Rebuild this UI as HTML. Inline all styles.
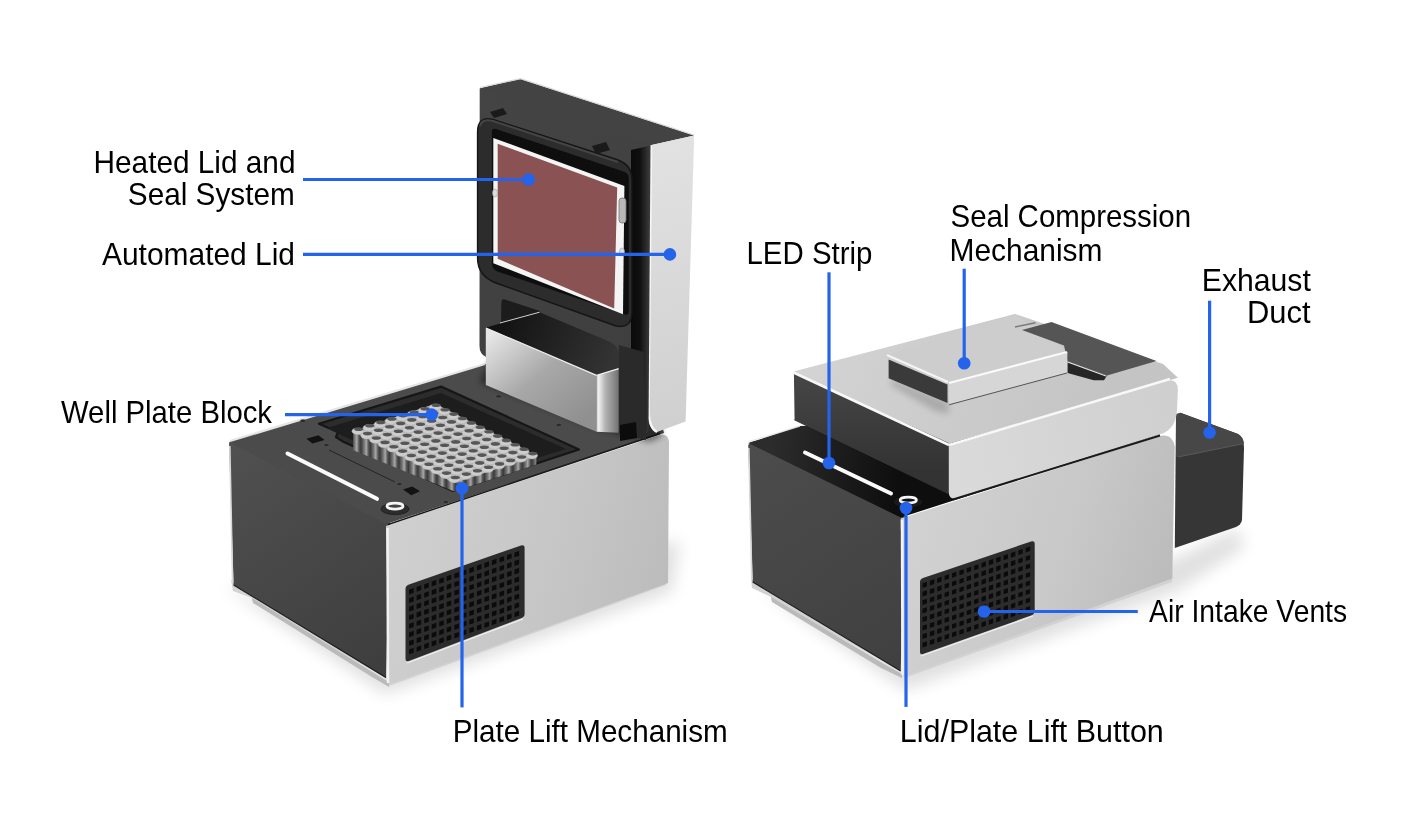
<!DOCTYPE html>
<html><head><meta charset="utf-8">
<style>
html,body{margin:0;padding:0;background:#fff;width:1420px;height:824px;overflow:hidden}
svg{display:block;will-change:transform}
text{font-family:"Liberation Sans",sans-serif;font-size:30.5px;fill:#000}
</style></head>
<body>
<svg width="1420" height="824" viewBox="0 0 1420 824">
<defs>
  <filter id="b12" x="-50%" y="-50%" width="200%" height="200%"><feGaussianBlur stdDeviation="12"/></filter>
  <filter id="b8" x="-50%" y="-50%" width="200%" height="200%"><feGaussianBlur stdDeviation="8"/></filter>
  <filter id="b3" x="-50%" y="-50%" width="200%" height="200%"><feGaussianBlur stdDeviation="3"/></filter>
  <filter id="b5" x="-50%" y="-50%" width="200%" height="200%"><feGaussianBlur stdDeviation="5"/></filter>
  <filter id="b2" x="-50%" y="-50%" width="200%" height="200%"><feGaussianBlur stdDeviation="1.5"/></filter>
  <linearGradient id="silverL" gradientUnits="userSpaceOnUse" x1="390" y1="520" x2="660" y2="600">
    <stop offset="0" stop-color="#d0d0d0"/><stop offset="0.6" stop-color="#c6c6c6"/><stop offset="1" stop-color="#bcbcbc"/>
  </linearGradient>
  <linearGradient id="silverR" gradientUnits="userSpaceOnUse" x1="905" y1="510" x2="1170" y2="590">
    <stop offset="0" stop-color="#d2d2d2"/><stop offset="0.6" stop-color="#c8c8c8"/><stop offset="1" stop-color="#bbbbbb"/>
  </linearGradient>
  <linearGradient id="darkFL" gradientUnits="userSpaceOnUse" x1="230" y1="450" x2="380" y2="670">
    <stop offset="0" stop-color="#505050"/><stop offset="1" stop-color="#3e3e3e"/>
  </linearGradient>
  <linearGradient id="darkFR" gradientUnits="userSpaceOnUse" x1="750" y1="450" x2="900" y2="670">
    <stop offset="0" stop-color="#4c4c4c"/><stop offset="1" stop-color="#404040"/>
  </linearGradient>
  <linearGradient id="lidSide" gradientUnits="userSpaceOnUse" x1="650" y1="140" x2="690" y2="420">
    <stop offset="0" stop-color="#e2e2e2"/><stop offset="1" stop-color="#d0d0d0"/>
  </linearGradient>
  <linearGradient id="hinge" gradientUnits="userSpaceOnUse" x1="490" y1="335" x2="570" y2="430">
    <stop offset="0" stop-color="#e6e6e6"/><stop offset="0.5" stop-color="#a8a8a8"/><stop offset="1" stop-color="#909090"/>
  </linearGradient>
  <linearGradient id="hingeSide" gradientUnits="userSpaceOnUse" x1="596" y1="0" x2="619" y2="0">
    <stop offset="0" stop-color="#c8c8c8"/><stop offset="0.12" stop-color="#f0f0f0"/><stop offset="0.4" stop-color="#b4b4b4"/><stop offset="1" stop-color="#707070"/>
  </linearGradient>
  <linearGradient id="lidTop" gradientUnits="userSpaceOnUse" x1="500" y1="80" x2="510" y2="110">
    <stop offset="0" stop-color="#4a4a4a"/><stop offset="1" stop-color="#3c3c3c"/>
  </linearGradient>
  <linearGradient id="rbaseTop" gradientUnits="userSpaceOnUse" x1="770" y1="450" x2="900" y2="470">
    <stop offset="0" stop-color="#2c2c2c"/><stop offset="1" stop-color="#0e0e0e"/>
  </linearGradient>
  <linearGradient id="rlidL" gradientUnits="userSpaceOnUse" x1="850" y1="380" x2="850" y2="470">
    <stop offset="0" stop-color="#454545"/><stop offset="1" stop-color="#333"/>
  </linearGradient>
  <linearGradient id="faceEdge" gradientUnits="userSpaceOnUse" x1="631" y1="0" x2="649" y2="0">
    <stop offset="0" stop-color="#0a0a0a"/><stop offset="0.5" stop-color="#101010"/><stop offset="1" stop-color="#383838"/>
  </linearGradient>
  <linearGradient id="boxIn" gradientUnits="userSpaceOnUse" x1="500" y1="320" x2="610" y2="365">
    <stop offset="0" stop-color="#121212"/><stop offset="1" stop-color="#333"/>
  </linearGradient>
  <linearGradient id="lidFace" gradientUnits="userSpaceOnUse" x1="480" y1="90" x2="640" y2="430">
    <stop offset="0" stop-color="#444"/><stop offset="1" stop-color="#3e3e3e"/>
  </linearGradient>
  <linearGradient id="cyl" gradientUnits="userSpaceOnUse" x1="0" y1="0" x2="9.5" y2="0" spreadMethod="repeat">
    <stop offset="0" stop-color="#3c3c3c"/><stop offset="0.35" stop-color="#7a7a7a"/><stop offset="0.55" stop-color="#a8a8a8"/><stop offset="0.8" stop-color="#555"/><stop offset="1" stop-color="#3a3a3a"/>
  </linearGradient>
  <linearGradient id="rlidTop" gradientUnits="userSpaceOnUse" x1="800" y1="330" x2="1100" y2="430">
    <stop offset="0" stop-color="#d4d4d4"/><stop offset="1" stop-color="#c4c4c4"/>
  </linearGradient>
  <linearGradient id="rlidSide" gradientUnits="userSpaceOnUse" x1="950" y1="450" x2="1175" y2="400">
    <stop offset="0" stop-color="#dadada"/><stop offset="1" stop-color="#cfcfcf"/>
  </linearGradient>
</defs>

<g id="left">
<polygon points="222.0,585.0 385.0,694.0 672.0,592.0 680.0,540.0 600.0,560.0 390.0,640.0" fill="#000" opacity="0.12" filter="url(#b8)"/>
<polygon points="231.0,580.0 386.0,674.0 389.0,686.0 666.0,585.0 666.0,578.0 389.0,680.0 253.0,603.0 252.0,598.0 233.0,591.0" fill="#d2d2d2"/>
<polygon points="252.0,598.0 253.0,603.0 372.0,677.0 389.0,687.0 389.0,682.0 374.0,673.0" fill="#bababa"/>
<polygon points="229.0,443.0 232.0,440.0 300.0,420.0 390.0,520.0 386.0,678.0 233.6,585.0" fill="url(#darkFL)"/>
<line x1="233.6" y1="585" x2="386" y2="677.5" stroke="#1e1e1e" stroke-width="1.2"/>
<line x1="229.8" y1="446" x2="232.6" y2="583" stroke="#d8d8d8" stroke-width="1.6"/>
<path d="M386,526 L660,435 Q668,433 669,442 L668,583 L389,684 Z" fill="url(#silverL)"/>
<line x1="387.5" y1="528" x2="388" y2="683" stroke="#f2f2f2" stroke-width="2.5"/>
<polygon points="229.0,442.0 485.0,364.0 641.0,336.0 664.0,433.0 386.0,524.0" fill="#4b4b4b"/>
<line x1="230" y1="441" x2="485" y2="364" stroke="#e6e6e6" stroke-width="2.2"/>
<line x1="388" y1="524.5" x2="660" y2="433.5" stroke="#1a1a1a" stroke-width="1.5"/>
<path d="M405.5,589 Q405.5,586 409,584.6 L521,545.5 Q524.6,544.5 524.6,548 L524.6,614 Q524.6,617 521,618.3 L409,661 Q405.5,662.3 405.5,659 Z" fill="#2c2c2c"/>
<line x1="407" y1="663" x2="523" y2="619" stroke="#f0f0f0" stroke-width="1.2"/>
<path d="M409.1,589.6 l4.6,-1.6 l0,4.8 l-4.6,1.6 z M409.1,598.2 l4.6,-1.6 l0,4.8 l-4.6,1.6 z M409.1,606.7 l4.6,-1.6 l0,4.8 l-4.6,1.6 z M409.1,615.3 l4.6,-1.6 l0,4.8 l-4.6,1.6 z M409.1,623.8 l4.6,-1.6 l0,4.8 l-4.6,1.6 z M409.1,632.4 l4.6,-1.6 l0,4.8 l-4.6,1.6 z M409.1,641.0 l4.6,-1.6 l0,4.8 l-4.6,1.6 z M409.1,649.5 l4.6,-1.6 l0,4.8 l-4.6,1.6 z M416.6,586.9 l4.6,-1.6 l0,4.8 l-4.6,1.6 z M416.6,595.5 l4.6,-1.6 l0,4.8 l-4.6,1.6 z M416.6,604.1 l4.6,-1.6 l0,4.8 l-4.6,1.6 z M416.6,612.6 l4.6,-1.6 l0,4.8 l-4.6,1.6 z M416.6,621.2 l4.6,-1.6 l0,4.8 l-4.6,1.6 z M416.6,629.7 l4.6,-1.6 l0,4.8 l-4.6,1.6 z M416.6,638.3 l4.6,-1.6 l0,4.8 l-4.6,1.6 z M416.6,646.9 l4.6,-1.6 l0,4.8 l-4.6,1.6 z M424.2,584.3 l4.6,-1.6 l0,4.8 l-4.6,1.6 z M424.2,592.9 l4.6,-1.6 l0,4.8 l-4.6,1.6 z M424.2,601.4 l4.6,-1.6 l0,4.8 l-4.6,1.6 z M424.2,610.0 l4.6,-1.6 l0,4.8 l-4.6,1.6 z M424.2,618.5 l4.6,-1.6 l0,4.8 l-4.6,1.6 z M424.2,627.1 l4.6,-1.6 l0,4.8 l-4.6,1.6 z M424.2,635.7 l4.6,-1.6 l0,4.8 l-4.6,1.6 z M424.2,644.2 l4.6,-1.6 l0,4.8 l-4.6,1.6 z M431.7,581.6 l4.6,-1.6 l0,4.8 l-4.6,1.6 z M431.7,590.2 l4.6,-1.6 l0,4.8 l-4.6,1.6 z M431.7,598.8 l4.6,-1.6 l0,4.8 l-4.6,1.6 z M431.7,607.3 l4.6,-1.6 l0,4.8 l-4.6,1.6 z M431.7,615.9 l4.6,-1.6 l0,4.8 l-4.6,1.6 z M431.7,624.4 l4.6,-1.6 l0,4.8 l-4.6,1.6 z M431.7,633.0 l4.6,-1.6 l0,4.8 l-4.6,1.6 z M431.7,641.6 l4.6,-1.6 l0,4.8 l-4.6,1.6 z M439.2,579.0 l4.6,-1.6 l0,4.8 l-4.6,1.6 z M439.2,587.6 l4.6,-1.6 l0,4.8 l-4.6,1.6 z M439.2,596.1 l4.6,-1.6 l0,4.8 l-4.6,1.6 z M439.2,604.7 l4.6,-1.6 l0,4.8 l-4.6,1.6 z M439.2,613.2 l4.6,-1.6 l0,4.8 l-4.6,1.6 z M439.2,621.8 l4.6,-1.6 l0,4.8 l-4.6,1.6 z M439.2,630.4 l4.6,-1.6 l0,4.8 l-4.6,1.6 z M439.2,638.9 l4.6,-1.6 l0,4.8 l-4.6,1.6 z M446.7,576.3 l4.6,-1.6 l0,4.8 l-4.6,1.6 z M446.7,584.9 l4.6,-1.6 l0,4.8 l-4.6,1.6 z M446.7,593.5 l4.6,-1.6 l0,4.8 l-4.6,1.6 z M446.7,602.0 l4.6,-1.6 l0,4.8 l-4.6,1.6 z M446.7,610.6 l4.6,-1.6 l0,4.8 l-4.6,1.6 z M446.7,619.1 l4.6,-1.6 l0,4.8 l-4.6,1.6 z M446.7,627.7 l4.6,-1.6 l0,4.8 l-4.6,1.6 z M446.7,636.3 l4.6,-1.6 l0,4.8 l-4.6,1.6 z M454.3,573.7 l4.6,-1.6 l0,4.8 l-4.6,1.6 z M454.3,582.3 l4.6,-1.6 l0,4.8 l-4.6,1.6 z M454.3,590.8 l4.6,-1.6 l0,4.8 l-4.6,1.6 z M454.3,599.4 l4.6,-1.6 l0,4.8 l-4.6,1.6 z M454.3,607.9 l4.6,-1.6 l0,4.8 l-4.6,1.6 z M454.3,616.5 l4.6,-1.6 l0,4.8 l-4.6,1.6 z M454.3,625.1 l4.6,-1.6 l0,4.8 l-4.6,1.6 z M454.3,633.6 l4.6,-1.6 l0,4.8 l-4.6,1.6 z M461.8,571.0 l4.6,-1.6 l0,4.8 l-4.6,1.6 z M461.8,579.6 l4.6,-1.6 l0,4.8 l-4.6,1.6 z M461.8,588.2 l4.6,-1.6 l0,4.8 l-4.6,1.6 z M461.8,596.7 l4.6,-1.6 l0,4.8 l-4.6,1.6 z M461.8,605.3 l4.6,-1.6 l0,4.8 l-4.6,1.6 z M461.8,613.8 l4.6,-1.6 l0,4.8 l-4.6,1.6 z M461.8,622.4 l4.6,-1.6 l0,4.8 l-4.6,1.6 z M461.8,631.0 l4.6,-1.6 l0,4.8 l-4.6,1.6 z M469.3,568.4 l4.6,-1.6 l0,4.8 l-4.6,1.6 z M469.3,577.0 l4.6,-1.6 l0,4.8 l-4.6,1.6 z M469.3,585.5 l4.6,-1.6 l0,4.8 l-4.6,1.6 z M469.3,594.1 l4.6,-1.6 l0,4.8 l-4.6,1.6 z M469.3,602.6 l4.6,-1.6 l0,4.8 l-4.6,1.6 z M469.3,611.2 l4.6,-1.6 l0,4.8 l-4.6,1.6 z M469.3,619.8 l4.6,-1.6 l0,4.8 l-4.6,1.6 z M469.3,628.3 l4.6,-1.6 l0,4.8 l-4.6,1.6 z M476.9,565.7 l4.6,-1.6 l0,4.8 l-4.6,1.6 z M476.9,574.3 l4.6,-1.6 l0,4.8 l-4.6,1.6 z M476.9,582.9 l4.6,-1.6 l0,4.8 l-4.6,1.6 z M476.9,591.4 l4.6,-1.6 l0,4.8 l-4.6,1.6 z M476.9,600.0 l4.6,-1.6 l0,4.8 l-4.6,1.6 z M476.9,608.5 l4.6,-1.6 l0,4.8 l-4.6,1.6 z M476.9,617.1 l4.6,-1.6 l0,4.8 l-4.6,1.6 z M476.9,625.7 l4.6,-1.6 l0,4.8 l-4.6,1.6 z M484.4,563.1 l4.6,-1.6 l0,4.8 l-4.6,1.6 z M484.4,571.7 l4.6,-1.6 l0,4.8 l-4.6,1.6 z M484.4,580.2 l4.6,-1.6 l0,4.8 l-4.6,1.6 z M484.4,588.8 l4.6,-1.6 l0,4.8 l-4.6,1.6 z M484.4,597.3 l4.6,-1.6 l0,4.8 l-4.6,1.6 z M484.4,605.9 l4.6,-1.6 l0,4.8 l-4.6,1.6 z M484.4,614.5 l4.6,-1.6 l0,4.8 l-4.6,1.6 z M484.4,623.0 l4.6,-1.6 l0,4.8 l-4.6,1.6 z M491.9,560.4 l4.6,-1.6 l0,4.8 l-4.6,1.6 z M491.9,569.0 l4.6,-1.6 l0,4.8 l-4.6,1.6 z M491.9,577.6 l4.6,-1.6 l0,4.8 l-4.6,1.6 z M491.9,586.1 l4.6,-1.6 l0,4.8 l-4.6,1.6 z M491.9,594.7 l4.6,-1.6 l0,4.8 l-4.6,1.6 z M491.9,603.2 l4.6,-1.6 l0,4.8 l-4.6,1.6 z M491.9,611.8 l4.6,-1.6 l0,4.8 l-4.6,1.6 z M491.9,620.4 l4.6,-1.6 l0,4.8 l-4.6,1.6 z M499.5,557.8 l4.6,-1.6 l0,4.8 l-4.6,1.6 z M499.5,566.4 l4.6,-1.6 l0,4.8 l-4.6,1.6 z M499.5,574.9 l4.6,-1.6 l0,4.8 l-4.6,1.6 z M499.5,583.5 l4.6,-1.6 l0,4.8 l-4.6,1.6 z M499.5,592.0 l4.6,-1.6 l0,4.8 l-4.6,1.6 z M499.5,600.6 l4.6,-1.6 l0,4.8 l-4.6,1.6 z M499.5,609.2 l4.6,-1.6 l0,4.8 l-4.6,1.6 z M499.5,617.7 l4.6,-1.6 l0,4.8 l-4.6,1.6 z M507.0,555.1 l4.6,-1.6 l0,4.8 l-4.6,1.6 z M507.0,563.7 l4.6,-1.6 l0,4.8 l-4.6,1.6 z M507.0,572.3 l4.6,-1.6 l0,4.8 l-4.6,1.6 z M507.0,580.8 l4.6,-1.6 l0,4.8 l-4.6,1.6 z M507.0,589.4 l4.6,-1.6 l0,4.8 l-4.6,1.6 z M507.0,597.9 l4.6,-1.6 l0,4.8 l-4.6,1.6 z M507.0,606.5 l4.6,-1.6 l0,4.8 l-4.6,1.6 z M507.0,615.1 l4.6,-1.6 l0,4.8 l-4.6,1.6 z M514.5,552.5 l4.6,-1.6 l0,4.8 l-4.6,1.6 z M514.5,561.1 l4.6,-1.6 l0,4.8 l-4.6,1.6 z M514.5,569.6 l4.6,-1.6 l0,4.8 l-4.6,1.6 z M514.5,578.2 l4.6,-1.6 l0,4.8 l-4.6,1.6 z M514.5,586.7 l4.6,-1.6 l0,4.8 l-4.6,1.6 z M514.5,595.3 l4.6,-1.6 l0,4.8 l-4.6,1.6 z M514.5,603.9 l4.6,-1.6 l0,4.8 l-4.6,1.6 z M514.5,612.4 l4.6,-1.6 l0,4.8 l-4.6,1.6 z" fill="#0b0b0b"/>
<polygon points="318.9,423.7 441.0,386.6 579.0,449.5 453.0,491.0 342.2,441.2 336.0,437.0 338.0,432.0" fill="#2c2c2c" stroke="#161616" stroke-width="2.2" stroke-linejoin="round"/>
<polygon points="327.0,428.0 441.0,393.0 566.0,449.0 453.0,484.0 345.0,437.0" fill="#1d1d1d"/>
<line x1="329" y1="450" x2="395" y2="482" stroke="#252525" stroke-width="1"/>
<polygon points="353.2,431.2 353.2,450.2 454.3,491.5 536.3,464.6 536.3,455.6 454.3,479.5" fill="url(#cyl)"/>
<polygon points="352.7,431.2 435.2,403.8 536.8,455.6 454.3,483.0" fill="#bdbdbd"/>
<g fill="#cdcdcd" stroke="#a8a8a8" stroke-width="0.4"><ellipse cx="357.7" cy="431.2" rx="5.8" ry="3.3"/><ellipse cx="368.8" cy="427.8" rx="5.8" ry="3.3"/><ellipse cx="379.8" cy="424.4" rx="5.8" ry="3.3"/><ellipse cx="390.9" cy="421.0" rx="5.8" ry="3.3"/><ellipse cx="402.0" cy="417.6" rx="5.8" ry="3.3"/><ellipse cx="413.1" cy="414.1" rx="5.8" ry="3.3"/><ellipse cx="424.1" cy="410.7" rx="5.8" ry="3.3"/><ellipse cx="435.2" cy="407.3" rx="5.8" ry="3.3"/><ellipse cx="366.5" cy="435.6" rx="5.8" ry="3.3"/><ellipse cx="377.5" cy="432.2" rx="5.8" ry="3.3"/><ellipse cx="388.6" cy="428.8" rx="5.8" ry="3.3"/><ellipse cx="399.7" cy="425.4" rx="5.8" ry="3.3"/><ellipse cx="410.8" cy="421.9" rx="5.8" ry="3.3"/><ellipse cx="421.8" cy="418.5" rx="5.8" ry="3.3"/><ellipse cx="432.9" cy="415.1" rx="5.8" ry="3.3"/><ellipse cx="444.0" cy="411.7" rx="5.8" ry="3.3"/><ellipse cx="375.3" cy="440.0" rx="5.8" ry="3.3"/><ellipse cx="386.3" cy="436.6" rx="5.8" ry="3.3"/><ellipse cx="397.4" cy="433.2" rx="5.8" ry="3.3"/><ellipse cx="408.5" cy="429.7" rx="5.8" ry="3.3"/><ellipse cx="419.5" cy="426.3" rx="5.8" ry="3.3"/><ellipse cx="430.6" cy="422.9" rx="5.8" ry="3.3"/><ellipse cx="441.7" cy="419.5" rx="5.8" ry="3.3"/><ellipse cx="452.8" cy="416.1" rx="5.8" ry="3.3"/><ellipse cx="384.0" cy="444.4" rx="5.8" ry="3.3"/><ellipse cx="395.1" cy="441.0" rx="5.8" ry="3.3"/><ellipse cx="406.2" cy="437.6" rx="5.8" ry="3.3"/><ellipse cx="417.2" cy="434.1" rx="5.8" ry="3.3"/><ellipse cx="428.3" cy="430.7" rx="5.8" ry="3.3"/><ellipse cx="439.4" cy="427.3" rx="5.8" ry="3.3"/><ellipse cx="450.5" cy="423.9" rx="5.8" ry="3.3"/><ellipse cx="461.5" cy="420.5" rx="5.8" ry="3.3"/><ellipse cx="392.8" cy="448.8" rx="5.8" ry="3.3"/><ellipse cx="403.9" cy="445.3" rx="5.8" ry="3.3"/><ellipse cx="415.0" cy="441.9" rx="5.8" ry="3.3"/><ellipse cx="426.0" cy="438.5" rx="5.8" ry="3.3"/><ellipse cx="437.1" cy="435.1" rx="5.8" ry="3.3"/><ellipse cx="448.2" cy="431.7" rx="5.8" ry="3.3"/><ellipse cx="459.2" cy="428.3" rx="5.8" ry="3.3"/><ellipse cx="470.3" cy="424.9" rx="5.8" ry="3.3"/><ellipse cx="401.6" cy="453.1" rx="5.8" ry="3.3"/><ellipse cx="412.7" cy="449.7" rx="5.8" ry="3.3"/><ellipse cx="423.7" cy="446.3" rx="5.8" ry="3.3"/><ellipse cx="434.8" cy="442.9" rx="5.8" ry="3.3"/><ellipse cx="445.9" cy="439.5" rx="5.8" ry="3.3"/><ellipse cx="456.9" cy="436.1" rx="5.8" ry="3.3"/><ellipse cx="468.0" cy="432.7" rx="5.8" ry="3.3"/><ellipse cx="479.1" cy="429.3" rx="5.8" ry="3.3"/><ellipse cx="410.4" cy="457.5" rx="5.8" ry="3.3"/><ellipse cx="421.4" cy="454.1" rx="5.8" ry="3.3"/><ellipse cx="432.5" cy="450.7" rx="5.8" ry="3.3"/><ellipse cx="443.6" cy="447.3" rx="5.8" ry="3.3"/><ellipse cx="454.7" cy="443.9" rx="5.8" ry="3.3"/><ellipse cx="465.7" cy="440.5" rx="5.8" ry="3.3"/><ellipse cx="476.8" cy="437.1" rx="5.8" ry="3.3"/><ellipse cx="487.9" cy="433.7" rx="5.8" ry="3.3"/><ellipse cx="419.2" cy="461.9" rx="5.8" ry="3.3"/><ellipse cx="430.2" cy="458.5" rx="5.8" ry="3.3"/><ellipse cx="441.3" cy="455.1" rx="5.8" ry="3.3"/><ellipse cx="452.4" cy="451.7" rx="5.8" ry="3.3"/><ellipse cx="463.4" cy="448.3" rx="5.8" ry="3.3"/><ellipse cx="474.5" cy="444.9" rx="5.8" ry="3.3"/><ellipse cx="485.6" cy="441.5" rx="5.8" ry="3.3"/><ellipse cx="496.6" cy="438.1" rx="5.8" ry="3.3"/><ellipse cx="427.9" cy="466.3" rx="5.8" ry="3.3"/><ellipse cx="439.0" cy="462.9" rx="5.8" ry="3.3"/><ellipse cx="450.1" cy="459.5" rx="5.8" ry="3.3"/><ellipse cx="461.1" cy="456.1" rx="5.8" ry="3.3"/><ellipse cx="472.2" cy="452.7" rx="5.8" ry="3.3"/><ellipse cx="483.3" cy="449.3" rx="5.8" ry="3.3"/><ellipse cx="494.4" cy="445.9" rx="5.8" ry="3.3"/><ellipse cx="505.4" cy="442.4" rx="5.8" ry="3.3"/><ellipse cx="436.7" cy="470.7" rx="5.8" ry="3.3"/><ellipse cx="447.8" cy="467.3" rx="5.8" ry="3.3"/><ellipse cx="458.9" cy="463.9" rx="5.8" ry="3.3"/><ellipse cx="469.9" cy="460.5" rx="5.8" ry="3.3"/><ellipse cx="481.0" cy="457.1" rx="5.8" ry="3.3"/><ellipse cx="492.1" cy="453.7" rx="5.8" ry="3.3"/><ellipse cx="503.1" cy="450.2" rx="5.8" ry="3.3"/><ellipse cx="514.2" cy="446.8" rx="5.8" ry="3.3"/><ellipse cx="445.5" cy="475.1" rx="5.8" ry="3.3"/><ellipse cx="456.6" cy="471.7" rx="5.8" ry="3.3"/><ellipse cx="467.6" cy="468.3" rx="5.8" ry="3.3"/><ellipse cx="478.7" cy="464.9" rx="5.8" ry="3.3"/><ellipse cx="489.8" cy="461.5" rx="5.8" ry="3.3"/><ellipse cx="500.9" cy="458.0" rx="5.8" ry="3.3"/><ellipse cx="511.9" cy="454.6" rx="5.8" ry="3.3"/><ellipse cx="523.0" cy="451.2" rx="5.8" ry="3.3"/><ellipse cx="454.3" cy="479.5" rx="5.8" ry="3.3"/><ellipse cx="465.3" cy="476.1" rx="5.8" ry="3.3"/><ellipse cx="476.4" cy="472.7" rx="5.8" ry="3.3"/><ellipse cx="487.5" cy="469.3" rx="5.8" ry="3.3"/><ellipse cx="498.6" cy="465.9" rx="5.8" ry="3.3"/><ellipse cx="509.6" cy="462.4" rx="5.8" ry="3.3"/><ellipse cx="520.7" cy="459.0" rx="5.8" ry="3.3"/><ellipse cx="531.8" cy="455.6" rx="5.8" ry="3.3"/></g>
<g fill="#565656"><ellipse cx="358.7" cy="429.2" rx="4.6" ry="1.8"/><ellipse cx="369.8" cy="425.8" rx="4.6" ry="1.8"/><ellipse cx="380.8" cy="422.4" rx="4.6" ry="1.8"/><ellipse cx="391.9" cy="419.0" rx="4.6" ry="1.8"/><ellipse cx="403.0" cy="415.6" rx="4.6" ry="1.8"/><ellipse cx="414.1" cy="412.1" rx="4.6" ry="1.8"/><ellipse cx="425.1" cy="408.7" rx="4.6" ry="1.8"/><ellipse cx="436.2" cy="405.3" rx="4.6" ry="1.8"/><ellipse cx="367.5" cy="433.6" rx="4.6" ry="1.8"/><ellipse cx="378.5" cy="430.2" rx="4.6" ry="1.8"/><ellipse cx="389.6" cy="426.8" rx="4.6" ry="1.8"/><ellipse cx="400.7" cy="423.4" rx="4.6" ry="1.8"/><ellipse cx="411.8" cy="419.9" rx="4.6" ry="1.8"/><ellipse cx="422.8" cy="416.5" rx="4.6" ry="1.8"/><ellipse cx="433.9" cy="413.1" rx="4.6" ry="1.8"/><ellipse cx="445.0" cy="409.7" rx="4.6" ry="1.8"/><ellipse cx="376.3" cy="438.0" rx="4.6" ry="1.8"/><ellipse cx="387.3" cy="434.6" rx="4.6" ry="1.8"/><ellipse cx="398.4" cy="431.2" rx="4.6" ry="1.8"/><ellipse cx="409.5" cy="427.7" rx="4.6" ry="1.8"/><ellipse cx="420.5" cy="424.3" rx="4.6" ry="1.8"/><ellipse cx="431.6" cy="420.9" rx="4.6" ry="1.8"/><ellipse cx="442.7" cy="417.5" rx="4.6" ry="1.8"/><ellipse cx="453.8" cy="414.1" rx="4.6" ry="1.8"/><ellipse cx="385.0" cy="442.4" rx="4.6" ry="1.8"/><ellipse cx="396.1" cy="439.0" rx="4.6" ry="1.8"/><ellipse cx="407.2" cy="435.6" rx="4.6" ry="1.8"/><ellipse cx="418.2" cy="432.1" rx="4.6" ry="1.8"/><ellipse cx="429.3" cy="428.7" rx="4.6" ry="1.8"/><ellipse cx="440.4" cy="425.3" rx="4.6" ry="1.8"/><ellipse cx="451.5" cy="421.9" rx="4.6" ry="1.8"/><ellipse cx="462.5" cy="418.5" rx="4.6" ry="1.8"/><ellipse cx="393.8" cy="446.8" rx="4.6" ry="1.8"/><ellipse cx="404.9" cy="443.3" rx="4.6" ry="1.8"/><ellipse cx="416.0" cy="439.9" rx="4.6" ry="1.8"/><ellipse cx="427.0" cy="436.5" rx="4.6" ry="1.8"/><ellipse cx="438.1" cy="433.1" rx="4.6" ry="1.8"/><ellipse cx="449.2" cy="429.7" rx="4.6" ry="1.8"/><ellipse cx="460.2" cy="426.3" rx="4.6" ry="1.8"/><ellipse cx="471.3" cy="422.9" rx="4.6" ry="1.8"/><ellipse cx="402.6" cy="451.1" rx="4.6" ry="1.8"/><ellipse cx="413.7" cy="447.7" rx="4.6" ry="1.8"/><ellipse cx="424.7" cy="444.3" rx="4.6" ry="1.8"/><ellipse cx="435.8" cy="440.9" rx="4.6" ry="1.8"/><ellipse cx="446.9" cy="437.5" rx="4.6" ry="1.8"/><ellipse cx="457.9" cy="434.1" rx="4.6" ry="1.8"/><ellipse cx="469.0" cy="430.7" rx="4.6" ry="1.8"/><ellipse cx="480.1" cy="427.3" rx="4.6" ry="1.8"/><ellipse cx="411.4" cy="455.5" rx="4.6" ry="1.8"/><ellipse cx="422.4" cy="452.1" rx="4.6" ry="1.8"/><ellipse cx="433.5" cy="448.7" rx="4.6" ry="1.8"/><ellipse cx="444.6" cy="445.3" rx="4.6" ry="1.8"/><ellipse cx="455.7" cy="441.9" rx="4.6" ry="1.8"/><ellipse cx="466.7" cy="438.5" rx="4.6" ry="1.8"/><ellipse cx="477.8" cy="435.1" rx="4.6" ry="1.8"/><ellipse cx="488.9" cy="431.7" rx="4.6" ry="1.8"/><ellipse cx="420.2" cy="459.9" rx="4.6" ry="1.8"/><ellipse cx="431.2" cy="456.5" rx="4.6" ry="1.8"/><ellipse cx="442.3" cy="453.1" rx="4.6" ry="1.8"/><ellipse cx="453.4" cy="449.7" rx="4.6" ry="1.8"/><ellipse cx="464.4" cy="446.3" rx="4.6" ry="1.8"/><ellipse cx="475.5" cy="442.9" rx="4.6" ry="1.8"/><ellipse cx="486.6" cy="439.5" rx="4.6" ry="1.8"/><ellipse cx="497.6" cy="436.1" rx="4.6" ry="1.8"/><ellipse cx="428.9" cy="464.3" rx="4.6" ry="1.8"/><ellipse cx="440.0" cy="460.9" rx="4.6" ry="1.8"/><ellipse cx="451.1" cy="457.5" rx="4.6" ry="1.8"/><ellipse cx="462.1" cy="454.1" rx="4.6" ry="1.8"/><ellipse cx="473.2" cy="450.7" rx="4.6" ry="1.8"/><ellipse cx="484.3" cy="447.3" rx="4.6" ry="1.8"/><ellipse cx="495.4" cy="443.9" rx="4.6" ry="1.8"/><ellipse cx="506.4" cy="440.4" rx="4.6" ry="1.8"/><ellipse cx="437.7" cy="468.7" rx="4.6" ry="1.8"/><ellipse cx="448.8" cy="465.3" rx="4.6" ry="1.8"/><ellipse cx="459.9" cy="461.9" rx="4.6" ry="1.8"/><ellipse cx="470.9" cy="458.5" rx="4.6" ry="1.8"/><ellipse cx="482.0" cy="455.1" rx="4.6" ry="1.8"/><ellipse cx="493.1" cy="451.7" rx="4.6" ry="1.8"/><ellipse cx="504.1" cy="448.2" rx="4.6" ry="1.8"/><ellipse cx="515.2" cy="444.8" rx="4.6" ry="1.8"/><ellipse cx="446.5" cy="473.1" rx="4.6" ry="1.8"/><ellipse cx="457.6" cy="469.7" rx="4.6" ry="1.8"/><ellipse cx="468.6" cy="466.3" rx="4.6" ry="1.8"/><ellipse cx="479.7" cy="462.9" rx="4.6" ry="1.8"/><ellipse cx="490.8" cy="459.5" rx="4.6" ry="1.8"/><ellipse cx="501.9" cy="456.0" rx="4.6" ry="1.8"/><ellipse cx="512.9" cy="452.6" rx="4.6" ry="1.8"/><ellipse cx="524.0" cy="449.2" rx="4.6" ry="1.8"/><ellipse cx="455.3" cy="477.5" rx="4.6" ry="1.8"/><ellipse cx="466.3" cy="474.1" rx="4.6" ry="1.8"/><ellipse cx="477.4" cy="470.7" rx="4.6" ry="1.8"/><ellipse cx="488.5" cy="467.3" rx="4.6" ry="1.8"/><ellipse cx="499.6" cy="463.9" rx="4.6" ry="1.8"/><ellipse cx="510.6" cy="460.4" rx="4.6" ry="1.8"/><ellipse cx="521.7" cy="457.0" rx="4.6" ry="1.8"/><ellipse cx="532.8" cy="453.6" rx="4.6" ry="1.8"/></g>
<ellipse cx="498.6" cy="396.4" rx="2.8" ry="1.6" fill="#2a2a2a" stroke="#5a5a5a" stroke-width="0.6"/>
<ellipse cx="558.8" cy="424.9" rx="2.8" ry="1.6" fill="#2a2a2a" stroke="#5a5a5a" stroke-width="0.6"/>
<ellipse cx="445.8" cy="502" rx="2.8" ry="1.6" fill="#2a2a2a" stroke="#5a5a5a" stroke-width="0.6"/>
<ellipse cx="399.3" cy="484.1" rx="2.8" ry="1.6" fill="#2a2a2a" stroke="#5a5a5a" stroke-width="0.6"/>
<ellipse cx="326.4" cy="445" rx="2.8" ry="1.6" fill="#2a2a2a" stroke="#5a5a5a" stroke-width="0.6"/>
<ellipse cx="303" cy="421" rx="2.8" ry="1.6" fill="#2a2a2a" stroke="#5a5a5a" stroke-width="0.6"/>
<line x1="287.5" y1="453.5" x2="377" y2="498.8" stroke="#fbfbfb" stroke-width="4" stroke-linecap="round"/>
<ellipse cx="395" cy="509" rx="14" ry="5.6" fill="#2c2c2c" stroke="#222" stroke-width="1"/>
<ellipse cx="395" cy="506.1" rx="8.1" ry="3.0" fill="#444" stroke="#f6f6f6" stroke-width="2.6"/>
<polygon points="306.4,438.7 318.5,435.3 324.5,440.0 312.5,443.4" fill="#121212"/>
<polygon points="403.0,489.4 412.2,486.5 420.0,491.3 411.3,495.2" fill="#121212"/>
<polygon points="480.0,382.0 596.0,428.0 650.0,442.0 662.0,436.0 655.0,400.0 490.0,360.0" fill="#000" opacity="0.45" filter="url(#b3)"/>
<path d="M479.7,88.4 L520.5,79.2 L660,125 L650.5,145.2 L648,431 L640,440 L618,433 L486,386 L486,357 Q479.5,354 479.5,346 Z" fill="url(#lidFace)"/>
<polygon points="479.7,88.4 520.5,79.2 694.2,135.5 650.5,145.2" fill="#434343"/>
<polyline points="480.0,87.5 520.5,78.7 694.0,135.0" fill="none" stroke="#d8d8d8" stroke-width="1.2"/>
<path d="M650.5,145.2 L694.2,135.5 L685.6,421.4 L657,432 Q650,430 649,420 L648,410 Z" fill="url(#lidSide)"/>
<path d="M651,146 L648.5,410 Q649,428 657,432" fill="none" stroke="#f6f6f6" stroke-width="2.5"/>
<polygon points="631.0,150.0 650.5,145.5 648.5,431.0 631.0,436.0" fill="url(#faceEdge)"/>
<path d="M477.6,132 Q477.6,116 493,119.5 L618,160 Q632,165 632,180 L632,312 Q632,329 616,326 L496,283 Q477.6,276 477.6,258 Z" fill="#2c2c2c" stroke="#151515" stroke-width="1.5"/>
<path d="M480,126 Q482,118 493,121 L618,162" fill="none" stroke="#444" stroke-width="2"/>
<polygon points="490.0,112.0 503.0,108.0 507.0,114.0 494.0,118.0" fill="#1a1a1a"/>
<polygon points="592.0,146.0 606.0,142.0 610.0,150.0 596.0,154.0" fill="#1a1a1a"/>
<path d="M491.9,132 Q491.9,127.7 496,129 L625,172 Q628.8,174.3 628.8,178 L628.8,311 Q628.8,315.6 625,314.5 L496,271 Q491.9,267.6 491.9,264 Z" fill="#0e0e0e"/>
<polygon points="493.3,137.9 624.4,186.0 623.0,314.2 493.3,263.2" fill="#f4f4f4"/>
<polygon points="497.7,143.7 617.2,187.4 614.2,308.4 497.7,258.8" fill="#8a5252"/>
<rect x="619" y="198" width="7" height="25" rx="3" fill="#b8b8b8" stroke="#777" stroke-width="0.8"/>
<ellipse cx="495" cy="193" rx="2.5" ry="4" fill="#ddd" stroke="#999" stroke-width="0.6"/>
<ellipse cx="622" cy="252" rx="2.5" ry="4" fill="#ddd" stroke="#999" stroke-width="0.6"/>
<path d="M501.4,303 Q501.4,298.5 505,299.5 L540,311 L540,322 L501,325 Z" fill="#1c1c1c"/>
<path d="M486,327.6 L539.6,312.2 L608,341 Q618.8,345 618.8,355 L618.8,368.6 L596.5,375.4 Z" fill="url(#boxIn)"/>
<line x1="500" y1="323" x2="539.6" y2="312.2" stroke="#d0d0d0" stroke-width="1"/>
<polygon points="485.8,327.9 596.5,375.4 596.5,431.7 485.8,385.1" fill="url(#hinge)"/>
<polygon points="596.5,375.4 618.8,368.6 618.8,432.7 596.5,431.7" fill="url(#hingeSide)"/>
<line x1="486" y1="328" x2="596.5" y2="375.4" stroke="#f0f0f0" stroke-width="1.2"/>
<line x1="596.5" y1="375.4" x2="618.8" y2="368.6" stroke="#f0f0f0" stroke-width="1.2"/>
<polygon points="618.8,345.0 644.0,352.0 646.0,440.0 618.8,433.0" fill="#2a2a2a"/>
<polygon points="620.0,425.0 636.0,422.0 637.0,438.0 620.0,441.0" fill="#0c0c0c"/>
</g>
<g id="right">
<polygon points="760.0,590.0 905.0,690.0 1175.0,592.0 1244.0,548.0 1238.0,528.0 1172.0,560.0 1000.0,600.0 900.0,640.0" fill="#000" opacity="0.12" filter="url(#b8)"/>
<path d="M1176,416 L1180.3,412.7 L1238,434 Q1244,437 1244,448 L1242,520 Q1241,525 1236,527 L1174.8,548 Z" fill="#363636"/>
<path d="M1176,414 L1180.3,412.7 L1238,434 Q1243,437 1244,443 L1180,456.5 L1176,457 Z" fill="#474747"/>
<line x1="1178" y1="457" x2="1244" y2="443.5" stroke="#5a5a5a" stroke-width="1.2"/>
<polygon points="751.0,578.0 901.0,666.0 904.0,678.0 1172.0,582.0 1172.0,576.0 904.0,672.0 772.0,601.0 771.0,597.0 752.0,588.0" fill="#d2d2d2"/>
<polygon points="771.0,597.0 772.0,602.0 881.0,668.0 902.0,678.0 902.0,674.0 884.0,664.0" fill="#bababa"/>
<polygon points="748.2,445.0 751.0,442.0 820.0,425.0 905.0,514.0 900.7,671.0 752.7,582.0" fill="url(#darkFR)"/>
<line x1="752.7" y1="582" x2="900.7" y2="671" stroke="#1e1e1e" stroke-width="1.2"/>
<line x1="748.8" y1="448" x2="751.8" y2="580" stroke="#d8d8d8" stroke-width="1.6"/>
<path d="M900.7,518.5 L1158,436.4 Q1173,432 1174.8,447 L1172.3,578.4 L904,676 Z" fill="url(#silverR)"/>
<line x1="902" y1="520" x2="902.5" y2="675" stroke="#f2f2f2" stroke-width="2.5"/>
<polygon points="748.2,443.1 800.0,426.0 1150.0,418.0 1160.0,434.0 900.7,517.5" fill="url(#rbaseTop)"/>
<line x1="748" y1="442" x2="800" y2="426" stroke="#e8e8e8" stroke-width="1.5" opacity="0.8"/>
<path d="M920,582 Q920,579 923,578 L1031,541.5 Q1034.7,540.2 1034.7,544 L1034.7,611 Q1034.7,614 1031,615.5 L923,654 Q920,655 920,652 Z" fill="#2c2c2c"/>
<line x1="921" y1="656" x2="1033" y2="616" stroke="#f0f0f0" stroke-width="1.2"/>
<path d="M922.5,583.3 l4.4,-1.5 l0,4.6 l-4.4,1.5 z M922.5,591.8 l4.4,-1.5 l0,4.6 l-4.4,1.5 z M922.5,600.3 l4.4,-1.5 l0,4.6 l-4.4,1.5 z M922.5,608.8 l4.4,-1.5 l0,4.6 l-4.4,1.5 z M922.5,617.3 l4.4,-1.5 l0,4.6 l-4.4,1.5 z M922.5,625.8 l4.4,-1.5 l0,4.6 l-4.4,1.5 z M922.5,634.3 l4.4,-1.5 l0,4.6 l-4.4,1.5 z M922.5,642.8 l4.4,-1.5 l0,4.6 l-4.4,1.5 z M929.9,580.8 l4.4,-1.5 l0,4.6 l-4.4,1.5 z M929.9,589.3 l4.4,-1.5 l0,4.6 l-4.4,1.5 z M929.9,597.8 l4.4,-1.5 l0,4.6 l-4.4,1.5 z M929.9,606.3 l4.4,-1.5 l0,4.6 l-4.4,1.5 z M929.9,614.8 l4.4,-1.5 l0,4.6 l-4.4,1.5 z M929.9,623.3 l4.4,-1.5 l0,4.6 l-4.4,1.5 z M929.9,631.8 l4.4,-1.5 l0,4.6 l-4.4,1.5 z M929.9,640.3 l4.4,-1.5 l0,4.6 l-4.4,1.5 z M937.2,578.3 l4.4,-1.5 l0,4.6 l-4.4,1.5 z M937.2,586.8 l4.4,-1.5 l0,4.6 l-4.4,1.5 z M937.2,595.3 l4.4,-1.5 l0,4.6 l-4.4,1.5 z M937.2,603.8 l4.4,-1.5 l0,4.6 l-4.4,1.5 z M937.2,612.3 l4.4,-1.5 l0,4.6 l-4.4,1.5 z M937.2,620.8 l4.4,-1.5 l0,4.6 l-4.4,1.5 z M937.2,629.3 l4.4,-1.5 l0,4.6 l-4.4,1.5 z M937.2,637.8 l4.4,-1.5 l0,4.6 l-4.4,1.5 z M944.6,575.7 l4.4,-1.5 l0,4.6 l-4.4,1.5 z M944.6,584.2 l4.4,-1.5 l0,4.6 l-4.4,1.5 z M944.6,592.7 l4.4,-1.5 l0,4.6 l-4.4,1.5 z M944.6,601.2 l4.4,-1.5 l0,4.6 l-4.4,1.5 z M944.6,609.7 l4.4,-1.5 l0,4.6 l-4.4,1.5 z M944.6,618.2 l4.4,-1.5 l0,4.6 l-4.4,1.5 z M944.6,626.7 l4.4,-1.5 l0,4.6 l-4.4,1.5 z M944.6,635.2 l4.4,-1.5 l0,4.6 l-4.4,1.5 z M952.0,573.2 l4.4,-1.5 l0,4.6 l-4.4,1.5 z M952.0,581.7 l4.4,-1.5 l0,4.6 l-4.4,1.5 z M952.0,590.2 l4.4,-1.5 l0,4.6 l-4.4,1.5 z M952.0,598.7 l4.4,-1.5 l0,4.6 l-4.4,1.5 z M952.0,607.2 l4.4,-1.5 l0,4.6 l-4.4,1.5 z M952.0,615.7 l4.4,-1.5 l0,4.6 l-4.4,1.5 z M952.0,624.2 l4.4,-1.5 l0,4.6 l-4.4,1.5 z M952.0,632.7 l4.4,-1.5 l0,4.6 l-4.4,1.5 z M959.4,570.7 l4.4,-1.5 l0,4.6 l-4.4,1.5 z M959.4,579.2 l4.4,-1.5 l0,4.6 l-4.4,1.5 z M959.4,587.7 l4.4,-1.5 l0,4.6 l-4.4,1.5 z M959.4,596.2 l4.4,-1.5 l0,4.6 l-4.4,1.5 z M959.4,604.7 l4.4,-1.5 l0,4.6 l-4.4,1.5 z M959.4,613.2 l4.4,-1.5 l0,4.6 l-4.4,1.5 z M959.4,621.7 l4.4,-1.5 l0,4.6 l-4.4,1.5 z M959.4,630.2 l4.4,-1.5 l0,4.6 l-4.4,1.5 z M966.7,568.2 l4.4,-1.5 l0,4.6 l-4.4,1.5 z M966.7,576.7 l4.4,-1.5 l0,4.6 l-4.4,1.5 z M966.7,585.2 l4.4,-1.5 l0,4.6 l-4.4,1.5 z M966.7,593.7 l4.4,-1.5 l0,4.6 l-4.4,1.5 z M966.7,602.2 l4.4,-1.5 l0,4.6 l-4.4,1.5 z M966.7,610.7 l4.4,-1.5 l0,4.6 l-4.4,1.5 z M966.7,619.2 l4.4,-1.5 l0,4.6 l-4.4,1.5 z M966.7,627.7 l4.4,-1.5 l0,4.6 l-4.4,1.5 z M974.1,565.7 l4.4,-1.5 l0,4.6 l-4.4,1.5 z M974.1,574.2 l4.4,-1.5 l0,4.6 l-4.4,1.5 z M974.1,582.7 l4.4,-1.5 l0,4.6 l-4.4,1.5 z M974.1,591.2 l4.4,-1.5 l0,4.6 l-4.4,1.5 z M974.1,599.7 l4.4,-1.5 l0,4.6 l-4.4,1.5 z M974.1,608.2 l4.4,-1.5 l0,4.6 l-4.4,1.5 z M974.1,616.7 l4.4,-1.5 l0,4.6 l-4.4,1.5 z M974.1,625.2 l4.4,-1.5 l0,4.6 l-4.4,1.5 z M981.5,563.1 l4.4,-1.5 l0,4.6 l-4.4,1.5 z M981.5,571.6 l4.4,-1.5 l0,4.6 l-4.4,1.5 z M981.5,580.1 l4.4,-1.5 l0,4.6 l-4.4,1.5 z M981.5,588.6 l4.4,-1.5 l0,4.6 l-4.4,1.5 z M981.5,597.1 l4.4,-1.5 l0,4.6 l-4.4,1.5 z M981.5,605.6 l4.4,-1.5 l0,4.6 l-4.4,1.5 z M981.5,614.1 l4.4,-1.5 l0,4.6 l-4.4,1.5 z M981.5,622.6 l4.4,-1.5 l0,4.6 l-4.4,1.5 z M988.8,560.6 l4.4,-1.5 l0,4.6 l-4.4,1.5 z M988.8,569.1 l4.4,-1.5 l0,4.6 l-4.4,1.5 z M988.8,577.6 l4.4,-1.5 l0,4.6 l-4.4,1.5 z M988.8,586.1 l4.4,-1.5 l0,4.6 l-4.4,1.5 z M988.8,594.6 l4.4,-1.5 l0,4.6 l-4.4,1.5 z M988.8,603.1 l4.4,-1.5 l0,4.6 l-4.4,1.5 z M988.8,611.6 l4.4,-1.5 l0,4.6 l-4.4,1.5 z M988.8,620.1 l4.4,-1.5 l0,4.6 l-4.4,1.5 z M996.2,558.1 l4.4,-1.5 l0,4.6 l-4.4,1.5 z M996.2,566.6 l4.4,-1.5 l0,4.6 l-4.4,1.5 z M996.2,575.1 l4.4,-1.5 l0,4.6 l-4.4,1.5 z M996.2,583.6 l4.4,-1.5 l0,4.6 l-4.4,1.5 z M996.2,592.1 l4.4,-1.5 l0,4.6 l-4.4,1.5 z M996.2,600.6 l4.4,-1.5 l0,4.6 l-4.4,1.5 z M996.2,609.1 l4.4,-1.5 l0,4.6 l-4.4,1.5 z M996.2,617.6 l4.4,-1.5 l0,4.6 l-4.4,1.5 z M1003.6,555.6 l4.4,-1.5 l0,4.6 l-4.4,1.5 z M1003.6,564.1 l4.4,-1.5 l0,4.6 l-4.4,1.5 z M1003.6,572.6 l4.4,-1.5 l0,4.6 l-4.4,1.5 z M1003.6,581.1 l4.4,-1.5 l0,4.6 l-4.4,1.5 z M1003.6,589.6 l4.4,-1.5 l0,4.6 l-4.4,1.5 z M1003.6,598.1 l4.4,-1.5 l0,4.6 l-4.4,1.5 z M1003.6,606.6 l4.4,-1.5 l0,4.6 l-4.4,1.5 z M1003.6,615.1 l4.4,-1.5 l0,4.6 l-4.4,1.5 z M1010.9,553.1 l4.4,-1.5 l0,4.6 l-4.4,1.5 z M1010.9,561.6 l4.4,-1.5 l0,4.6 l-4.4,1.5 z M1010.9,570.1 l4.4,-1.5 l0,4.6 l-4.4,1.5 z M1010.9,578.6 l4.4,-1.5 l0,4.6 l-4.4,1.5 z M1010.9,587.1 l4.4,-1.5 l0,4.6 l-4.4,1.5 z M1010.9,595.6 l4.4,-1.5 l0,4.6 l-4.4,1.5 z M1010.9,604.1 l4.4,-1.5 l0,4.6 l-4.4,1.5 z M1010.9,612.6 l4.4,-1.5 l0,4.6 l-4.4,1.5 z M1018.3,550.5 l4.4,-1.5 l0,4.6 l-4.4,1.5 z M1018.3,559.0 l4.4,-1.5 l0,4.6 l-4.4,1.5 z M1018.3,567.5 l4.4,-1.5 l0,4.6 l-4.4,1.5 z M1018.3,576.0 l4.4,-1.5 l0,4.6 l-4.4,1.5 z M1018.3,584.5 l4.4,-1.5 l0,4.6 l-4.4,1.5 z M1018.3,593.0 l4.4,-1.5 l0,4.6 l-4.4,1.5 z M1018.3,601.5 l4.4,-1.5 l0,4.6 l-4.4,1.5 z M1018.3,610.0 l4.4,-1.5 l0,4.6 l-4.4,1.5 z M1025.7,548.0 l4.4,-1.5 l0,4.6 l-4.4,1.5 z M1025.7,556.5 l4.4,-1.5 l0,4.6 l-4.4,1.5 z M1025.7,565.0 l4.4,-1.5 l0,4.6 l-4.4,1.5 z M1025.7,573.5 l4.4,-1.5 l0,4.6 l-4.4,1.5 z M1025.7,582.0 l4.4,-1.5 l0,4.6 l-4.4,1.5 z M1025.7,590.5 l4.4,-1.5 l0,4.6 l-4.4,1.5 z M1025.7,599.0 l4.4,-1.5 l0,4.6 l-4.4,1.5 z M1025.7,607.5 l4.4,-1.5 l0,4.6 l-4.4,1.5 z" fill="#0b0b0b"/>
<line x1="805" y1="452.5" x2="891" y2="493.5" stroke="#fbfbfb" stroke-width="4" stroke-linecap="round"/>
<ellipse cx="908" cy="502" rx="14" ry="5.6" fill="#1a1a1a"/>
<ellipse cx="908.3" cy="500.1" rx="8.2" ry="3.0" fill="#111" stroke="#f6f6f6" stroke-width="2.6"/>
<polygon points="794.0,420.0 953.0,498.0 1160.0,434.0 1150.0,428.0 950.0,490.0 800.0,414.0" fill="#111" opacity="0.7"/>
<polygon points="793.4,371.6 1014.9,314.0 1163.0,364.0 1177.9,377.7 948.8,443.7" fill="url(#rlidTop)"/>
<polygon points="793.9,373.0 948.8,443.0 952.0,470.0 948.8,494.2 794.6,420.2" fill="url(#rlidL)"/>
<path d="M948.8,445.7 L1165,381 Q1177.9,377.7 1177.9,390 L1177,410 Q1176,430 1159.4,434.5 L957,498.3 Q948.8,500 948.8,492 Z" fill="url(#rlidSide)"/>
<line x1="793.5" y1="372.5" x2="949" y2="445" stroke="#f8f8f8" stroke-width="2.5"/>
<line x1="949" y1="445" x2="1170" y2="379" stroke="#f8f8f8" stroke-width="2.5"/>
<line x1="953" y1="499.5" x2="1160" y2="435.5" stroke="#1a1a1a" stroke-width="2"/>
<polygon points="890.0,378.0 948.0,402.0 949.0,414.0 935.0,411.0 892.0,386.0" fill="#000" opacity="0.16" filter="url(#b3)"/>
<polygon points="887.0,355.0 1014.9,314.0 1067.5,351.1 948.2,381.3" fill="#cdcdcd"/>
<polygon points="1067.6,361.5 1107.0,375.6 1104.0,380.3 1093.7,380.3 1067.6,373.0" fill="#262626"/>
<polygon points="1022.0,330.1 1051.5,322.1 1156.5,360.9 1107.0,375.6 1067.6,361.5 1064.0,345.5" fill="#555"/>
<line x1="1067.6" y1="362" x2="1106" y2="376" stroke="#e8e8e8" stroke-width="1.2"/>
<line x1="1015" y1="327" x2="1035.5" y2="322.7" stroke="#7a7a7a" stroke-width="1.5"/>
<polygon points="888.6,359.6 947.5,384.4 947.5,403.0 888.6,378.2" fill="#3a3a3a"/>
<polygon points="949.0,382.0 1067.5,352.0 1066.8,372.8 949.0,404.6" fill="#d6d6d6"/>
<line x1="949" y1="404.8" x2="1067" y2="373" stroke="#555" stroke-width="1"/>
<line x1="949" y1="383" x2="1067" y2="352" stroke="#fafafa" stroke-width="2"/>
<line x1="887" y1="355" x2="948" y2="382" stroke="#f4f4f4" stroke-width="2"/>
</g>
<g stroke="#2563eb" stroke-width="3.2" fill="none">
<line x1="303" y1="179.5" x2="528.6" y2="179.5"/>
<line x1="303" y1="254.4" x2="669.9" y2="254.4"/>
<line x1="285" y1="414.6" x2="431.7" y2="414.6"/>
<line x1="462" y1="707.4" x2="462" y2="488.3"/>
<line x1="829" y1="272.3" x2="829" y2="463"/>
<line x1="964.2" y1="268.7" x2="964.2" y2="363.3"/>
<line x1="1209.6" y1="300.7" x2="1209.6" y2="432.5"/>
<line x1="1137.8" y1="611.5" x2="984.1" y2="611.5"/>
<line x1="906" y1="706.9" x2="906" y2="508"/>
</g><g fill="#2563eb">
<circle cx="528.6" cy="179.5" r="6.3"/>
<circle cx="669.9" cy="254.4" r="6.3"/>
<circle cx="431.7" cy="414.6" r="6.3"/>
<circle cx="462" cy="488.3" r="6.3"/>
<circle cx="829" cy="463" r="6.3"/>
<circle cx="964.2" cy="363.3" r="6.3"/>
<circle cx="1209.6" cy="432.5" r="6.3"/>
<circle cx="984.1" cy="611.5" r="6.3"/>
<circle cx="906" cy="508" r="6.3"/>
</g>
<text x="93.5" y="173.1" textLength="202" lengthAdjust="spacingAndGlyphs">Heated Lid and</text>
<text x="127.8" y="204.5" textLength="167" lengthAdjust="spacingAndGlyphs">Seal System</text>
<text x="102" y="264.8" textLength="193" lengthAdjust="spacingAndGlyphs">Automated Lid</text>
<text x="61" y="422.6" textLength="211" lengthAdjust="spacingAndGlyphs">Well Plate Block</text>
<text x="452.7" y="741.6" textLength="275" lengthAdjust="spacingAndGlyphs">Plate Lift Mechanism</text>
<text x="746.5" y="264.1" textLength="126" lengthAdjust="spacingAndGlyphs">LED Strip</text>
<text x="950.5" y="227.1" textLength="240.6" lengthAdjust="spacingAndGlyphs">Seal Compression</text>
<text x="949.5" y="260.8" textLength="153" lengthAdjust="spacingAndGlyphs">Mechanism</text>
<text x="1201.8" y="291.2" textLength="109" lengthAdjust="spacingAndGlyphs">Exhaust</text>
<text x="1246.9" y="322.9" textLength="63.6" lengthAdjust="spacingAndGlyphs">Duct</text>
<text x="1149.1" y="621.6" textLength="198" lengthAdjust="spacingAndGlyphs">Air Intake Vents</text>
<text x="899.8" y="741.8" textLength="264" lengthAdjust="spacingAndGlyphs">Lid/Plate Lift Button</text>
</svg>
</body></html>
